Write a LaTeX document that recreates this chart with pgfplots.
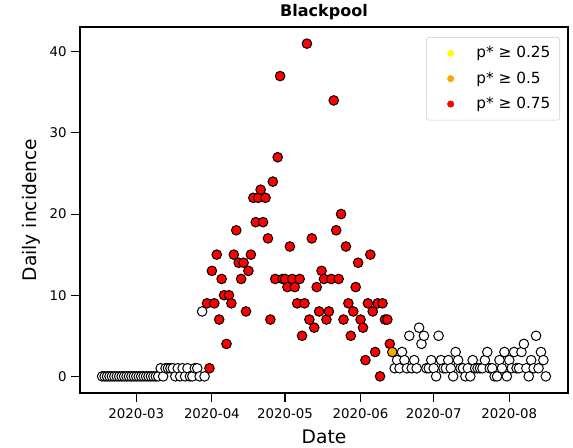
\documentclass[border=0pt]{standalone}
\usepackage{fontspec}
\setmainfont{DejaVu Sans}
\usepackage{pgfplots}
\pgfplotsset{compat=1.18}
\usepackage{pgfplotstable}
\definecolor{mporange}{HTML}{FFA500}
\definecolor{mpred}{HTML}{FF0000}
\definecolor{mpyellow}{HTML}{FFFF00}
\definecolor{legedge}{HTML}{CCCCCC}

% day = days since 2020-03-01
\pgfplotstableread{
day val
-14 0
-13 0
-12 0
-11 0
-10 0
-9 0
-8 0
-7 0
-6 0
-5 0
-4 0
-3 0
-2 0
-1 0
0 0
1 0
2 0
3 0
4 0
5 0
6 0
7 0
8 0
9 0
10 1
11 0
12 1
13 1
14 1
15 1
16 0
17 1
18 0
19 1
20 0
21 1
22 0
23 0
24 1
25 1
26 0
27 8
28 0
106 1
107 2
108 1
109 3
110 2
111 1
112 5
113 1
114 2
115 1
116 6
117 4
118 5
119 1
120 1
121 2
122 1
123 0
124 5
125 2
126 1
127 1
128 2
129 1
130 0
131 3
132 2
133 1
134 1
135 0
136 1
137 0
138 2
139 1
140 1
141 1
142 1
143 2
144 3
145 1
146 1
147 0
148 0
149 2
150 1
151 3
152 0
153 2
154 1
155 3
156 1
157 1
158 3
159 4
160 1
161 0
162 2
163 1
164 5
165 1
166 3
167 2
168 0
}\opendata

\pgfplotstableread{
day val
29 9
30 1
31 13
32 9
33 15
34 7
35 12
36 10
37 4
38 10
39 9
40 15
41 18
42 14
43 12
44 14
45 8
46 13
47 15
48 22
49 19
50 22
51 23
52 19
53 22
54 17
55 7
56 24
57 12
58 27
59 37
60 12
61 12
62 11
63 16
64 12
65 11
66 9
67 12
68 5
69 9
70 41
71 7
72 17
73 6
74 11
75 8
76 13
77 12
78 7
79 8
80 12
81 34
82 18
83 12
84 20
85 7
86 16
87 9
88 5
89 8
90 11
91 14
92 7
93 6
94 2
95 9
96 15
97 8
98 3
99 9
100 0
101 9
102 7
103 7
104 4
}\reddata

\pgfplotstableread{
day val
105 3
}\orangedata

\begin{document}
\begin{tikzpicture}
\useasboundingbox (-60pt,-41.25pt) rectangle (369.75pt,294.75pt);
\begin{axis}[
  scale only axis, width=366pt, height=274.5pt,
  xmin=-23.1, xmax=177.1, ymin=-2.05, ymax=43.05,
  xtick={0,31,61,92,122,153},
  xticklabels={2020-03,2020-04,2020-05,2020-06,2020-07,2020-08},
  ytick={0,10,20,30,40},
  tick align=outside, tick pos=left, major tick length=6.5pt,
  tick style={black, line width=0.8pt},
  ticklabel style={font=\fontsize{10}{12}\selectfont},
  xticklabel style={yshift=-2pt},
  /pgf/number format/assume math mode=true,
  xlabel={Date}, ylabel={Daily incidence},
  label style={font=\fontsize{14}{16}\selectfont},
  xlabel style={yshift=-1pt},
  title={Blackpool},
  title style={font=\bfseries\fontsize{12}{14}\selectfont, yshift=-4.5pt},
  axis line style={black, line width=0.8pt},
  legend image code/.code={%
    \path (0pt,0pt) (30pt,0pt);
    \draw[#1] plot coordinates {(13pt,0pt)};},
  legend style={at={(1,1)}, anchor=north east, xshift=-6pt, yshift=-7.5pt,
    draw=legedge, rounded corners=2pt, font=\fontsize{11.5}{14}\selectfont,
    row sep=5pt, inner xsep=5pt, inner ysep=5pt},
  legend cell align=left,
]
\addplot[only marks, mark=*, mark size=3.6pt,
  mark options={fill=white, draw=black, line width=0.75pt}, forget plot]
  table[x=day, y=val] {\opendata};
\addplot[only marks, mark=*, mark size=3.6pt,
  mark options={fill=mpred, draw=black, line width=0.75pt}, forget plot]
  table[x=day, y=val] {\reddata};
\addplot[only marks, mark=*, mark size=3.6pt,
  mark options={fill=mporange, draw=black, line width=0.75pt}, forget plot]
  table[x=day, y=val] {\orangedata};
\addlegendimage{only marks, mark=*, mark size=2.4pt, color=mpyellow}
\addlegendentry{p* ≥ 0.25}
\addlegendimage{only marks, mark=*, mark size=2.4pt, color=mporange}
\addlegendentry{p* ≥ 0.5}
\addlegendimage{only marks, mark=*, mark size=2.4pt, color=mpred}
\addlegendentry{p* ≥ 0.75}
\end{axis}
\end{tikzpicture}
\end{document}
